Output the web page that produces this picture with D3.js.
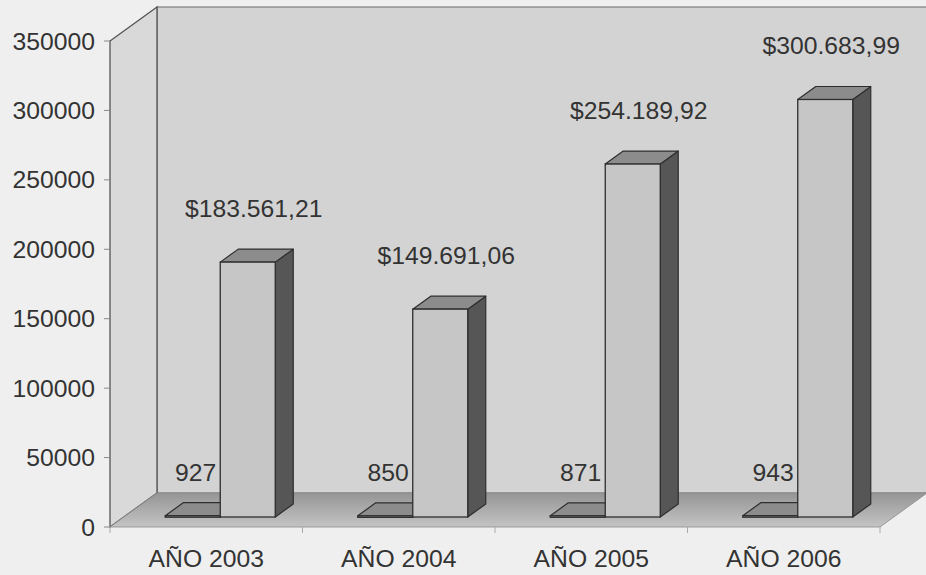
<!DOCTYPE html>
<html>
<head>
<meta charset="utf-8">
<script src="https://cdn.jsdelivr.net/npm/d3@7/dist/d3.min.js"></script>
<style>
  html, body { margin: 0; padding: 0; background: #efefef; }
  svg { display: block; }
  text { font-family: "Liberation Sans", Arial, sans-serif; fill: #333; }
</style>
</head>
<body>
<svg id="chart" width="926" height="575"></svg>
<script>
// ---- data ----
const categories = ["AÑO 2003", "AÑO 2004", "AÑO 2005", "AÑO 2006"];
const countValues = [927, 850, 871, 943];
const amountValues = [183561.21, 149691.06, 254189.92, 300683.99];
const amountLabels = ["$183.561,21", "$149.691,06", "$254.189,92", "$300.683,99"];
const countLabels = ["927", "850", "871", "943"];
const yTicks = [0, 50000, 100000, 150000, 200000, 250000, 300000, 350000];

(function () {
// ---- layout ----
const W = 926, H = 575;
const pLeft = 110, pRight = 880, pBottom = 527, pTop = 41;
const depthX = 47, depthY = -34;       // wall depth offset
const barOffX = 14, barOffY = -10;     // bar front plane offset
const barDX = 18, barDY = -13;         // bar depth
const barW = 55;
const FS = 24, SX = 1.03;

const svg = d3.select("#chart");

const y = d3.scaleLinear().domain([0, 350000]).range([pBottom, pTop]);
const x = d3.scaleBand().domain(categories).range([pLeft, pRight]).padding(0);
const series = d3.scaleBand().domain(["count", "amount"]).range([0, 2 * barW]);

const defs = svg.append("defs");
const fg = defs.append("linearGradient").attr("id", "floorGrad")
  .attr("x1", 0).attr("y1", 0).attr("x2", 0).attr("y2", 1);
fg.append("stop").attr("offset", "0%").attr("stop-color", "#959595");
fg.append("stop").attr("offset", "100%").attr("stop-color", "#c4c4c4");

const lineGen = d3.line();

// back wall
svg.append("path")
  .attr("d", lineGen([[pLeft + depthX, pTop + depthY], [W + 5, pTop + depthY], [W + 5, pBottom + depthY], [pLeft + depthX, pBottom + depthY]]) + "Z")
  .attr("fill", "#d3d3d3").attr("stroke", "#6a6a6a").attr("stroke-width", 1.2);

// left wall
svg.append("path")
  .attr("d", lineGen([[pLeft, pTop], [pLeft + depthX, pTop + depthY], [pLeft + depthX, pBottom + depthY], [pLeft, pBottom]]) + "Z")
  .attr("fill", "#d9d9d9").attr("stroke", "#555").attr("stroke-width", 1.3);

// floor
svg.append("path")
  .attr("d", lineGen([[pLeft, pBottom], [pLeft + depthX, pBottom + depthY], [pRight + depthX, pBottom + depthY], [pRight, pBottom]]) + "Z")
  .attr("fill", "url(#floorGrad)").attr("stroke", "#8a8a8a").attr("stroke-width", 0.8);

// y axis ticks & labels
const yAxis = svg.append("g");
yTicks.forEach(t => {
  yAxis.append("line")
    .attr("x1", pLeft - 6).attr("x2", pLeft).attr("y1", y(t)).attr("y2", y(t))
    .attr("stroke", "#888").attr("stroke-width", 1);
  yAxis.append("text")
    .attr("transform", `translate(${pLeft - 15},${y(t) + 8.5}) scale(${SX},1)`)
    .attr("text-anchor", "end").attr("font-size", FS)
    .text(t);
});

// x axis ticks & labels
const xAxis = svg.append("g");
categories.concat([null]).forEach((c) => {
  const xx = c === null ? pRight : x(c);
  xAxis.append("line")
    .attr("x1", xx).attr("x2", xx).attr("y1", pBottom).attr("y2", pBottom + 6)
    .attr("stroke", "#aaa").attr("stroke-width", 1);
});
categories.forEach(c => {
  xAxis.append("text")
    .attr("transform", `translate(${x(c) + x.bandwidth() / 2},567) scale(${SX},1)`)
    .attr("text-anchor", "middle").attr("font-size", FS)
    .text(c);
});

// 3D bar
function bar3d(g, x0, v) {
  const x1 = x0 + barW;
  const yb = y(0) + barOffY;
  const yt = y(v) + barOffY;
  g.append("path") // side
    .attr("d", lineGen([[x1, yt], [x1 + barDX, yt + barDY], [x1 + barDX, yb + barDY], [x1, yb]]) + "Z")
    .attr("fill", "#565656").attr("stroke", "#2e2e2e").attr("stroke-width", 1.2).attr("stroke-linejoin", "round");
  g.append("path") // top
    .attr("d", lineGen([[x0, yt], [x0 + barDX, yt + barDY], [x1 + barDX, yt + barDY], [x1, yt]]) + "Z")
    .attr("fill", "#8c8c8c").attr("stroke", "#2e2e2e").attr("stroke-width", 1.2).attr("stroke-linejoin", "round");
  g.append("rect") // front
    .attr("x", x0).attr("y", yt).attr("width", barW).attr("height", Math.max(yb - yt, 1.5))
    .attr("fill", "#c6c6c6").attr("stroke", "#2e2e2e").attr("stroke-width", 1.3);
}

const bars = svg.append("g");
categories.forEach((c, i) => {
  const g0 = x(c) + x.bandwidth() / 2 - barW + barOffX;
  const g = bars.append("g");
  bar3d(g, g0 + series("count"), countValues[i]);
  bar3d(g, g0 + series("amount"), amountValues[i]);
});

// labels
categories.forEach((c, i) => {
  const g0 = x(c) + x.bandwidth() / 2 - barW + barOffX;
  const cx = g0 + series("count") + barW / 2 + 3;
  svg.append("text")
    .attr("transform", `translate(${cx},${y(countValues[i]) + barOffY - 35}) scale(${SX},1)`)
    .attr("text-anchor", "middle").attr("font-size", FS)
    .text(countLabels[i]);
  const ax = g0 + series("amount") + barW / 2 + 6;
  svg.append("text")
    .attr("transform", `translate(${ax},${y(amountValues[i]) + barOffY - 45}) scale(${SX},1)`)
    .attr("text-anchor", "middle").attr("font-size", FS)
    .text(amountLabels[i]);
});
})();
</script>
</body>
</html>
